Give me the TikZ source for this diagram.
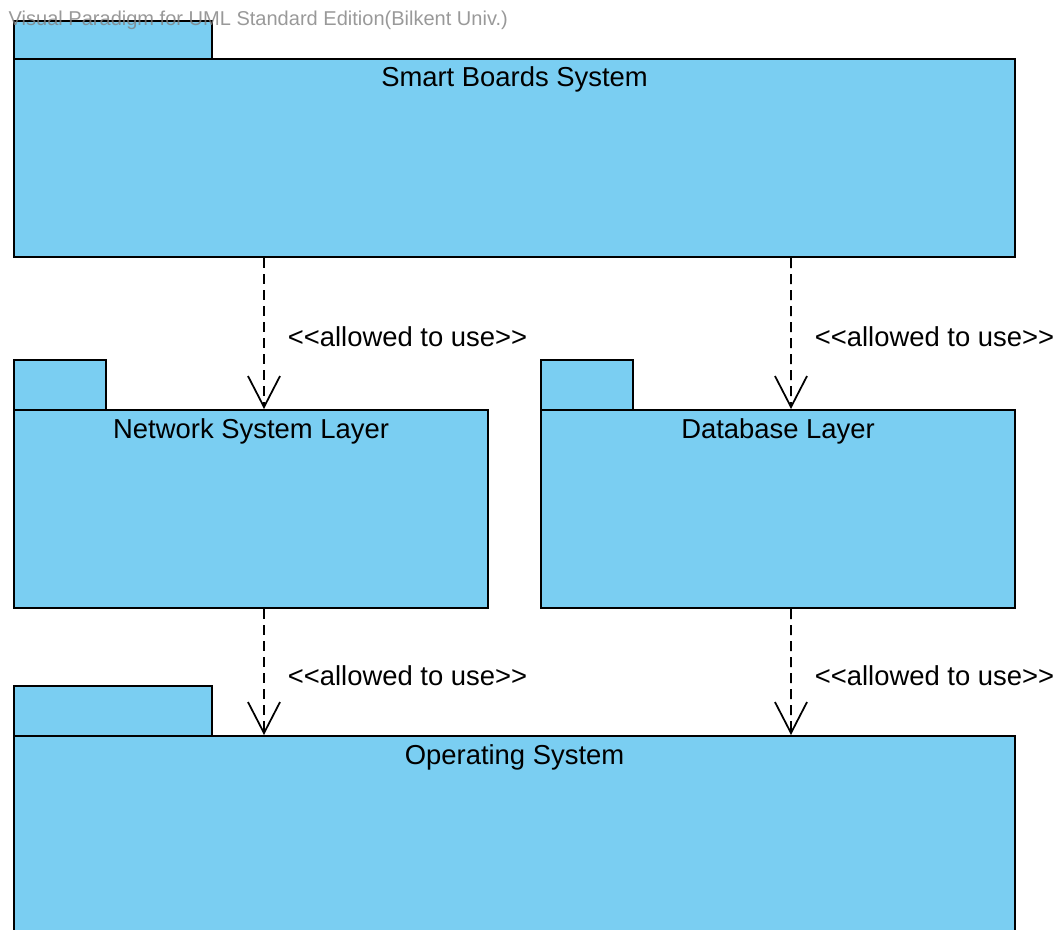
\documentclass[tikz,border=0pt]{standalone}
\usepackage{fontspec}
\setmainfont{Liberation Sans}
\usetikzlibrary{arrows.meta}
\definecolor{pkgblue}{RGB}{122,206,242}
\tikzset{
  pkg/.style={draw, fill=pkgblue, line width=0.6pt, inner sep=0pt, anchor=north west},
  pkgname/.style={font=\fontsize{7.8}{9}\selectfont, inner sep=0pt},
  uses/.style={draw, line width=0.5pt, dash pattern=on 1mm off 0.6mm,
    -{Straight Barb[length=3.1mm,width=3.2mm,line width=0.5pt]}},
  stereo/.style={font=\fontsize{7.8}{9}\selectfont, inner sep=0pt, anchor=west, xshift=2.3mm}
}
\newcommand{\allowed}{{<}{<}allowed to use{>}{>}}
\begin{document}
\begin{tikzpicture}[x=0.1mm,y=-0.1mm]
\useasboundingbox (0,0) rectangle (1058,930);
\clip (0,0) rectangle (1058,930);

% packages
\node[pkg, minimum width=19.8mm, minimum height=3.8mm] (sbstab) at (13,20) {};
\node[pkg, minimum width=100.1mm, minimum height=19.8mm] (sbs) at (13,58) {};
\node[pkg, minimum width=9.2mm, minimum height=5mm] (nsltab) at (13,359) {};
\node[pkg, minimum width=47.4mm, minimum height=19.8mm] (nsl) at (13,409) {};
\node[pkg, minimum width=9.2mm, minimum height=5mm] (dbtab) at (540,359) {};
\node[pkg, minimum width=47.4mm, minimum height=19.8mm] (db) at (540,409) {};
\node[pkg, minimum width=19.8mm, minimum height=5mm] (ostab) at (13,685) {};
\node[pkg, minimum width=100.1mm, minimum height=22mm] (os) at (13,735) {};

\node[pkgname] (sbsname) at ([yshift=-2.1mm]sbs.north) {Smart Boards System};
\node[pkgname] (nslname) at ([yshift=-2.2mm]nsl.north) {Network System Layer};
\node[pkgname] (dbname) at ([yshift=-2.2mm]db.north) {Database Layer};
\node[pkgname] (osname) at ([yshift=-2.2mm]os.north) {Operating System};

% dependencies
\path[uses] ([xshift=25.1mm]sbs.south west) -- ([xshift=25.1mm]nsl.north west)
  node[stereo, pos=0.52] {\allowed};
\path[uses] ([xshift=77.8mm]sbs.south west) -- ([xshift=25.1mm]db.north west)
  node[stereo, pos=0.52] {\allowed};
\path[uses] ([xshift=25.1mm]nsl.south west) -- ([xshift=25.1mm]os.north west)
  node[stereo, pos=0.53] {\allowed};
\path[uses] ([xshift=25.1mm]db.south west) -- ([xshift=77.8mm]os.north west)
  node[stereo, pos=0.53] {\allowed};

\node[font=\fontsize{5.7}{6}\selectfont, text=gray, opacity=0.8, inner sep=0pt, anchor=west] (mark) at (8,20) {Visual Paradigm for UML Standard Edition(Bilkent Univ.)};
\end{tikzpicture}
\end{document}
